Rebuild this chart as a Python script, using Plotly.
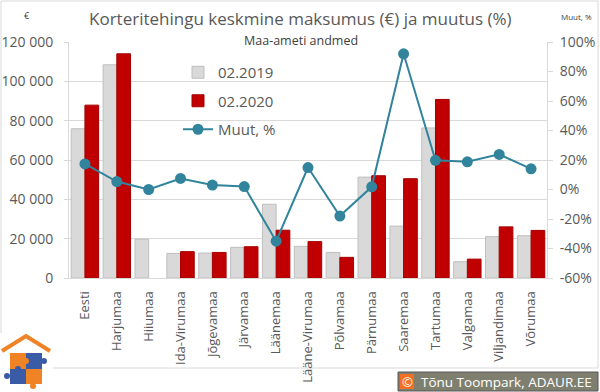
import plotly.graph_objects as go

categories = ["Eesti", "Harjumaa", "Hiiumaa", "Ida-Virumaa", "Jõgevamaa", "Järvamaa",
              "Läänemaa", "Lääne-Virumaa", "Põlvamaa", "Pärnumaa", "Saaremaa",
              "Tartumaa", "Valgamaa", "Viljandimaa", "Võrumaa"]
price_2019 = [75900, 108400, 19700, 12500, 12700, 15600, 37500, 16100, 13000,
              51300, 26400, 76300, 8300, 21000, 21500]
price_2020 = [87900, 114000, None, 13400, 13000, 15900, 24300, 18500, 10500,
              52000, 50500, 90800, 9600, 26000, 24200]
change_pct = [17.3, 5.4, 0.0, 7.5, 3.0, 2.0, -35.0, 14.9, -18.0,
              1.8, 92.0, 19.8, 18.8, 23.8, 14.0]

left_ticks = [0, 20000, 40000, 60000, 80000, 100000, 120000]
right_ticks = [-60, -40, -20, 0, 20, 40, 60, 80, 100]
right_tick_labels = ["-60%", "-40%", "-20%", "0%", "20%", "40%", "60%", "80%", "100%"]

W_FIG, H_FIG = 600, 392
L, R, T, B = 69, 53, 42, 114
PW = W_FIG - L - R
PH = H_FIG - T - B


def px(x):
    return (x - L) / PW


def py(y):
    return (H_FIG - B - y) / PH


FONT = "Open Sans"
TXT = "#595959"

fig = go.Figure()
fig.add_trace(go.Bar(
    x=categories, y=price_2019, name="02.2019",
    marker=dict(color="#d9d9d9", line=dict(color="#bfbfbf", width=1)),
    legendgroup="a",
))
fig.add_trace(go.Bar(
    x=categories, y=price_2020, name="02.2020",
    marker=dict(color="#c00000", line=dict(color="#a50000", width=1)),
    legendgroup="b",
))
fig.add_trace(go.Scatter(
    x=categories, y=change_pct, name="Muut, %", yaxis="y2",
    mode="lines+markers",
    line=dict(color="#31849b", width=2),
    marker=dict(color="#31849b", size=11),
    legendgroup="c",
))

shapes = []
# chart border
shapes.append(dict(type="rect", xref="paper", yref="paper",
                   x0=px(1), x1=px(598), y0=py(368), y1=py(1),
                   line=dict(color="#d9d9d9", width=1), layer="below"))
# logo background
shapes.append(dict(type="rect", xref="paper", yref="paper",
                   x0=px(0), x1=px(53), y0=py(392), y1=py(333),
                   line=dict(width=0), fillcolor="white"))
OR = "#ef8326"
BL = "#3a5ca6"
# roof
shapes.append(dict(type="path", xref="paper", yref="paper",
                   path=f"M{px(2)},{py(351)} L{px(26)},{py(336)} L{px(50)},{py(351)}",
                   line=dict(color=OR, width=4)))
# puzzle squares
for (x0, y0, x1, y1, c) in [(10, 353, 26, 369, OR), (26, 353, 42, 369, BL),
                            (10, 369, 26, 384, BL), (26, 369, 42, 384, OR)]:
    shapes.append(dict(type="rect", xref="paper", yref="paper",
                       x0=px(x0), x1=px(x1), y0=py(y1), y1=py(y0),
                       line=dict(width=0), fillcolor=c))
for (cx, cy, c) in [(44, 361, BL), (7, 376, BL), (33, 386, OR), (26, 361, OR), (18, 369, BL)]:
    shapes.append(dict(type="circle", xref="paper", yref="paper",
                       x0=px(cx - 3), x1=px(cx + 3), y0=py(cy + 3), y1=py(cy - 3),
                       line=dict(width=0), fillcolor=c))
# credit box
shapes.append(dict(type="rect", xref="paper", yref="paper",
                   x0=px(398), x1=px(598), y0=py(391), y1=py(372),
                   line=dict(color="#595959", width=1), fillcolor="#7f7f70"))
shapes.append(dict(type="rect", xref="paper", yref="paper",
                   x0=px(400), x1=px(414), y0=py(389), y1=py(374),
                   line=dict(width=0), fillcolor="#f36f21"))

annotations = [
    dict(text="Korteritehingu keskmine maksumus (€) ja muutus (%)",
         xref="paper", yref="paper", x=px(300), y=py(18), xanchor="center", yanchor="middle",
         showarrow=False, font=dict(family=FONT, size=17, color=TXT)),
    dict(text="Maa-ameti andmed",
         xref="paper", yref="paper", x=px(301), y=py(40), xanchor="center", yanchor="middle",
         showarrow=False, font=dict(family=FONT, size=12.5, color="#404040")),
    dict(text="€", xref="paper", yref="paper", x=px(27), y=py(15), xanchor="center",
         yanchor="middle", showarrow=False, font=dict(family=FONT, size=9, color="#404040")),
    dict(text="Muut, %", xref="paper", yref="paper", x=px(576), y=py(16), xanchor="center",
         yanchor="middle", showarrow=False, font=dict(family=FONT, size=8, color="#404040")),
    dict(text="©", xref="paper", yref="paper", x=px(407), y=py(381.5), xanchor="center",
         yanchor="middle", showarrow=False, font=dict(family=FONT, size=13, color="white")),
    dict(text="Tõnu Toompark, ADAUR.EE", xref="paper", yref="paper", x=px(506), y=py(381.5),
         xanchor="center", yanchor="middle", showarrow=False,
         font=dict(family=FONT, size=13.5, color="white")),
]

fig.update_layout(
    template="none",
    width=W_FIG, height=H_FIG,
    margin=dict(l=L, r=R, t=T, b=B, pad=0, autoexpand=False),
    paper_bgcolor="white", plot_bgcolor="white",
    separators=", ",
    font=dict(family=FONT, size=13, color=TXT),
    barmode="group", bargap=0.14, bargroupgap=0.0,
    showlegend=True,
    legend=dict(x=px(178), y=py(56), xanchor="left", yanchor="top",
                bgcolor="rgba(0,0,0,0)", font=dict(family=FONT, size=15, color=TXT),
                tracegroupgap=6, itemwidth=30),
    xaxis=dict(tickangle=-90, showgrid=False, showline=True, linecolor="#d9d9d9",
               ticks="", tickfont=dict(family=FONT, size=13, color=TXT),
               range=[-0.5, len(categories) - 0.5],
               ticklabelstandoff=7, automargin=False, zeroline=False),
    yaxis=dict(range=[0, 120000], tickvals=left_ticks, tickformat=",d",
               showgrid=True, gridcolor="#d9d9d9", gridwidth=1,
               showline=True, linecolor="#d9d9d9", ticks="outside", ticklen=4,
               tickcolor="#d9d9d9", tickfont=dict(family=FONT, size=14, color=TXT),
               ticklabelstandoff=8, zeroline=False, automargin=False),
    yaxis2=dict(range=[-60, 100], tickvals=right_ticks, ticktext=right_tick_labels,
                overlaying="y", side="right", showgrid=False,
                showline=True, linecolor="#d9d9d9", ticks="outside", ticklen=5,
                tickcolor="#d9d9d9", tickfont=dict(family=FONT, size=14, color=TXT),
                ticklabelstandoff=4, zeroline=False, automargin=False),
    shapes=shapes,
    annotations=annotations,
)

fig.write_html(
    "out.html",
    config={"displayModeBar": False},
    post_script="document.body.style.margin='0';document.body.style.overflow='hidden';",
)
